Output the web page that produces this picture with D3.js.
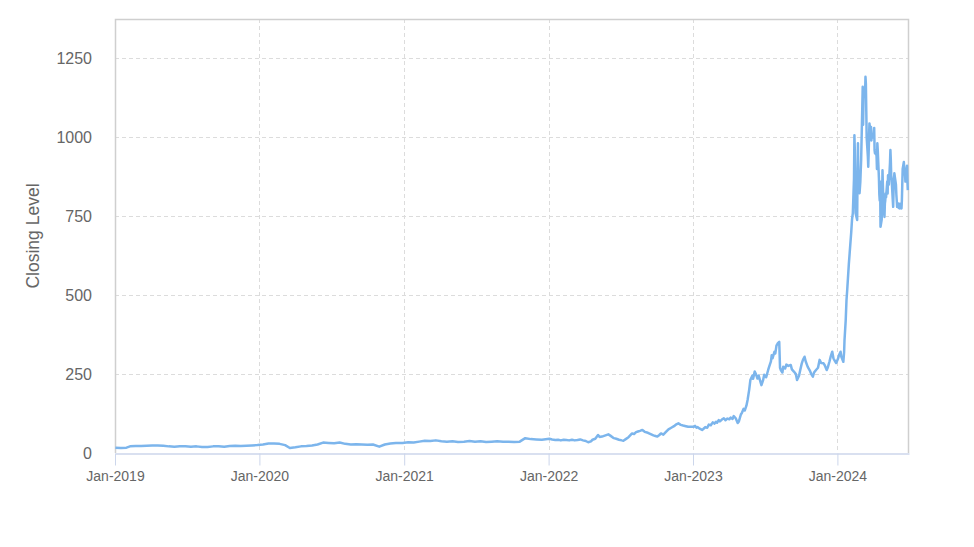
<!DOCTYPE html>
<html>
<head>
<meta charset="utf-8">
<script src="https://cdn.jsdelivr.net/npm/d3@7"></script>
<style>
  html, body { margin: 0; padding: 0; background: #ffffff; }
  svg { display: block; font-family: "Liberation Sans", Arial, sans-serif; }
</style>
</head>
<body>
<svg id="chart" width="974" height="547"></svg>
<script>
// ---- Data ----
const dates = [
  // 2019 - 2021
  "2019-01-02","2019-01-16","2019-01-30","2019-02-08","2019-02-22","2019-03-08","2019-03-22","2019-04-05","2019-04-19","2019-05-03",
  "2019-05-17","2019-05-31","2019-06-14","2019-06-28","2019-07-12","2019-07-26","2019-08-09","2019-08-23","2019-09-06","2019-09-20",
  "2019-10-04","2019-10-18","2019-11-01","2019-11-15","2019-11-29","2019-12-13","2019-12-27","2020-01-10","2020-01-24","2020-02-07",
  "2020-02-21","2020-03-06","2020-03-18","2020-04-01","2020-04-15","2020-04-29","2020-05-13","2020-05-27","2020-06-10","2020-06-24",
  "2020-07-08","2020-07-22","2020-08-05","2020-08-19","2020-09-02","2020-09-16","2020-09-30","2020-10-14","2020-10-30","2020-11-13",
  "2020-11-27","2020-12-11","2020-12-28","2021-01-11","2021-01-25","2021-02-08","2021-02-22","2021-03-08","2021-03-22","2021-04-05",
  "2021-04-19","2021-05-03","2021-05-17","2021-06-01","2021-06-15","2021-06-29","2021-07-13","2021-07-27","2021-08-10","2021-08-24",
  "2021-09-08","2021-09-22","2021-10-06","2021-10-20","2021-11-03","2021-11-17","2021-12-01","2021-12-15",
  // 2022
  "2022-01-03","2022-01-10","2022-01-18","2022-01-25","2022-02-01","2022-02-08","2022-02-15","2022-02-22","2022-03-01","2022-03-08",
  "2022-03-15","2022-03-22","2022-03-29","2022-04-05","2022-04-11","2022-04-18","2022-04-22","2022-04-29","2022-05-06","2022-05-10",
  "2022-05-16","2022-05-23","2022-06-01","2022-06-06","2022-06-15","2022-06-21","2022-06-28","2022-07-05","2022-07-09","2022-07-15",
  "2022-07-22","2022-07-31","2022-08-05","2022-08-10","2022-08-15","2022-08-20","2022-08-26","2022-09-01","2022-09-09","2022-09-16",
  "2022-09-23","2022-09-28","2022-10-03","2022-10-08","2022-10-12","2022-10-18","2022-10-24","2022-10-31","2022-11-07","2022-11-14",
  "2022-11-20","2022-11-25","2022-12-01","2022-12-07","2022-12-14","2022-12-20","2022-12-28",
  // 2023
  "2023-01-03","2023-01-06","2023-01-10","2023-01-13","2023-01-18","2023-01-24","2023-01-27","2023-02-01","2023-02-06","2023-02-10",
  "2023-02-15","2023-02-20","2023-02-24","2023-02-28","2023-03-03","2023-03-07","2023-03-10","2023-03-15","2023-03-20","2023-03-24",
  "2023-03-29","2023-04-03","2023-04-06","2023-04-11","2023-04-14","2023-04-19","2023-04-24","2023-04-27","2023-05-02","2023-05-05",
  "2023-05-09","2023-05-12","2023-05-16","2023-05-19","2023-05-23","2023-05-26","2023-05-31","2023-06-02","2023-06-06","2023-06-09",
  "2023-06-13","2023-06-16","2023-06-20","2023-06-23","2023-06-27","2023-06-30","2023-07-05","2023-07-10","2023-07-13","2023-07-17",
  "2023-07-19","2023-07-21","2023-07-26","2023-07-28","2023-07-31","2023-08-03","2023-08-07","2023-08-09","2023-08-11","2023-08-15",
  "2023-08-17","2023-08-22","2023-08-25","2023-08-30","2023-09-05","2023-09-08","2023-09-13","2023-09-18","2023-09-21","2023-09-26",
  "2023-09-29","2023-10-03","2023-10-06","2023-10-10","2023-10-13","2023-10-18","2023-10-23","2023-10-27","2023-10-31","2023-11-03",
  "2023-11-08","2023-11-13","2023-11-17","2023-11-21","2023-11-27","2023-11-30","2023-12-05","2023-12-08","2023-12-12","2023-12-15",
  "2023-12-19","2023-12-22","2023-12-27","2023-12-29",
  // 2024
  "2024-01-03","2024-01-05","2024-01-09","2024-01-11","2024-01-16","2024-01-18","2024-01-19","2024-01-22","2024-01-24","2024-01-26",
  "2024-01-30","2024-02-01","2024-02-05","2024-02-07","2024-02-09","2024-02-12","2024-02-13","2024-02-14","2024-02-15","2024-02-16",
  "2024-02-20","2024-02-21","2024-02-22","2024-02-23","2024-02-26","2024-02-28","2024-03-01","2024-03-04","2024-03-05","2024-03-06",
  "2024-03-07","2024-03-08","2024-03-11","2024-03-12","2024-03-13","2024-03-14","2024-03-15","2024-03-18","2024-03-19","2024-03-20",
  "2024-03-21","2024-03-22","2024-03-25","2024-03-26","2024-03-27","2024-03-28","2024-04-01","2024-04-03","2024-04-04","2024-04-05",
  "2024-04-08","2024-04-09","2024-04-10","2024-04-11","2024-04-12","2024-04-15","2024-04-16","2024-04-17","2024-04-18","2024-04-19",
  "2024-04-22","2024-04-23","2024-04-24","2024-04-25","2024-04-26","2024-04-29","2024-04-30","2024-05-01","2024-05-02","2024-05-03",
  "2024-05-06","2024-05-07","2024-05-08","2024-05-10","2024-05-13","2024-05-14","2024-05-15","2024-05-16","2024-05-17","2024-05-20",
  "2024-05-21","2024-05-22","2024-05-23","2024-05-24","2024-05-28","2024-05-29","2024-05-30","2024-05-31","2024-06-03","2024-06-04",
  "2024-06-05","2024-06-06","2024-06-07","2024-06-10","2024-06-11","2024-06-12","2024-06-13","2024-06-14","2024-06-17","2024-06-18",
  "2024-06-20","2024-06-21","2024-06-24","2024-06-25","2024-06-26","2024-06-27"
];
const closing = [
  // 2019 - 2021
  17,16,17,21,22,22,23,24,24,23,
  21,20,21,21,20,21,19,19,21,21,
  20,22,23,22,23,24,25,27,30,30,
  29,25,16,18,21,22,24,27,33,32,
  31,33,29,27,28,27,26,27,20,27,
  30,32,32,34,33,36,39,38,40,37,
  36,37,35,36,38,36,37,35,36,37,
  36,36,35,36,47,44,43,42,
  // 2022
  45,43,41,42,40,42,41,40,42,40,
  41,43,40,38,34,37,42,45,57,51,
  52,55,59,55,47,45,42,40,39,44,
  50,62,60,66,68,70,73,67,64,60,
  56,54,52,57,62,58,66,75,80,85,
  91,94,89,87,85,83,83,
  // 2023
  83,86,80,82,77,73,76,82,80,90,
  88,97,93,99,96,104,100,106,110,104,
  109,107,112,108,117,110,95,100,122,128,
  140,135,150,168,200,231,245,235,258,250,
  236,245,228,215,230,248,240,263,275,290,
  310,300,321,315,340,347,352,270,263,255,
  273,268,280,276,279,265,258,250,231,245,
  262,284,295,305,290,273,262,250,242,255,
  263,270,295,285,284,278,263,272,290,305,
  321,300,289,285,
  // 2024
  300,310,321,305,289,320,358,420,484,520,
  600,633,700,740,760,870,1007,960,850,760,
  738,900,981,850,823,860,928,1100,1160,1040,
  1120,1150,1140,1192,1170,1086,1000,940,907,950,
  1000,1044,1010,1033,990,1010,1000,1030,960,949,
  950,940,900,981,960,870,820,800,860,717,
  740,800,896,850,800,748,790,800,822,810,
  860,822,880,850,920,960,930,880,870,800,
  780,833,860,886,850,820,800,780,790,776,
  790,780,775,790,775,800,850,900,922,900,
  880,860,900,910,860,833
];
const yTicks = [0, 250, 500, 750, 1000, 1250];
const xTicks = ["2019-01-01","2020-01-01","2021-01-01","2022-01-01","2023-01-01","2024-01-01"];
const yTitle = "Closing Level";

// ---- Layout ----
const svg = d3.select("#chart");
const pL = 115, pR = 909, pT = 19, pB = 453;
const parse = d3.utcParse("%Y-%m-%d");
const series = dates.map((d, i) => ({ date: parse(d), value: closing[i] }));

const x = d3.scaleUtc()
  .domain([parse("2019-01-01"), parse("2024-06-30")])
  .range([pL, pR]);
const y = d3.scaleLinear()
  .domain([0, 1375])
  .range([pB, pT]);

// Gridlines (horizontal)
svg.append("g")
  .selectAll("line")
  .data(yTicks.filter(v => v > 0))
  .join("line")
  .attr("x1", pL).attr("x2", pR)
  .attr("y1", d => Math.round(y(d)) + 0.5).attr("y2", d => Math.round(y(d)) + 0.5)
  .attr("stroke", "#dcdcdc").attr("stroke-dasharray", "4,3");

// Gridlines (vertical)
svg.append("g")
  .selectAll("line")
  .data(xTicks.map(parse).slice(1))
  .join("line")
  .attr("x1", d => Math.round(x(d)) + 0.5).attr("x2", d => Math.round(x(d)) + 0.5)
  .attr("y1", pT).attr("y2", pB)
  .attr("stroke", "#dcdcdc").attr("stroke-dasharray", "4,3");

// Plot border (left, top, right)
svg.append("path")
  .attr("d", `M${pL + 0.5},${pB} V${pT + 0.5} H${pR - 0.5} V${pB}`)
  .attr("fill", "none").attr("stroke", "#cfcfcf").attr("stroke-width", 1.5);

// X axis
const xAxis = svg.append("g")
  .attr("transform", `translate(0,${pB + 0.5})`)
  .call(d3.axisBottom(x)
    .tickValues(xTicks.map(parse))
    .tickFormat(d3.utcFormat("%b-%Y"))
    .tickSizeOuter(0)
    .tickSizeInner(12)
    .tickPadding(6));
xAxis.select(".domain").attr("stroke", "#ccd6eb").attr("stroke-width", 1.5);
xAxis.selectAll(".tick line").attr("stroke", "#ccd6eb");
xAxis.selectAll(".tick text")
  .attr("fill", "#666666")
  .attr("font-size", "14px")
  .attr("font-family", "\"Liberation Sans\", Arial, sans-serif");

// Y axis (labels only)
const yAxis = svg.append("g")
  .attr("transform", `translate(${pL},0)`)
  .call(d3.axisLeft(y)
    .tickValues(yTicks)
    .tickFormat(d3.format("d"))
    .tickSize(0)
    .tickPadding(23));
yAxis.select(".domain").remove();
yAxis.selectAll(".tick text")
  .attr("fill", "#666666")
  .attr("font-size", "16px")
  .attr("font-family", "\"Liberation Sans\", Arial, sans-serif");

// Y title
svg.append("text")
  .attr("transform", `translate(39,${(pT + pB) / 2}) rotate(-90)`)
  .attr("text-anchor", "middle")
  .attr("fill", "#666666")
  .attr("font-size", "17.5px")
  .text(yTitle);

// Line
const line = d3.line()
  .x(d => x(d.date))
  .y(d => y(d.value));
svg.append("path")
  .datum(series)
  .attr("d", line)
  .attr("fill", "none")
  .attr("stroke", "#7cb5ec")
  .attr("stroke-width", 2.5)
  .attr("stroke-linejoin", "round");
</script>
</body>
</html>
